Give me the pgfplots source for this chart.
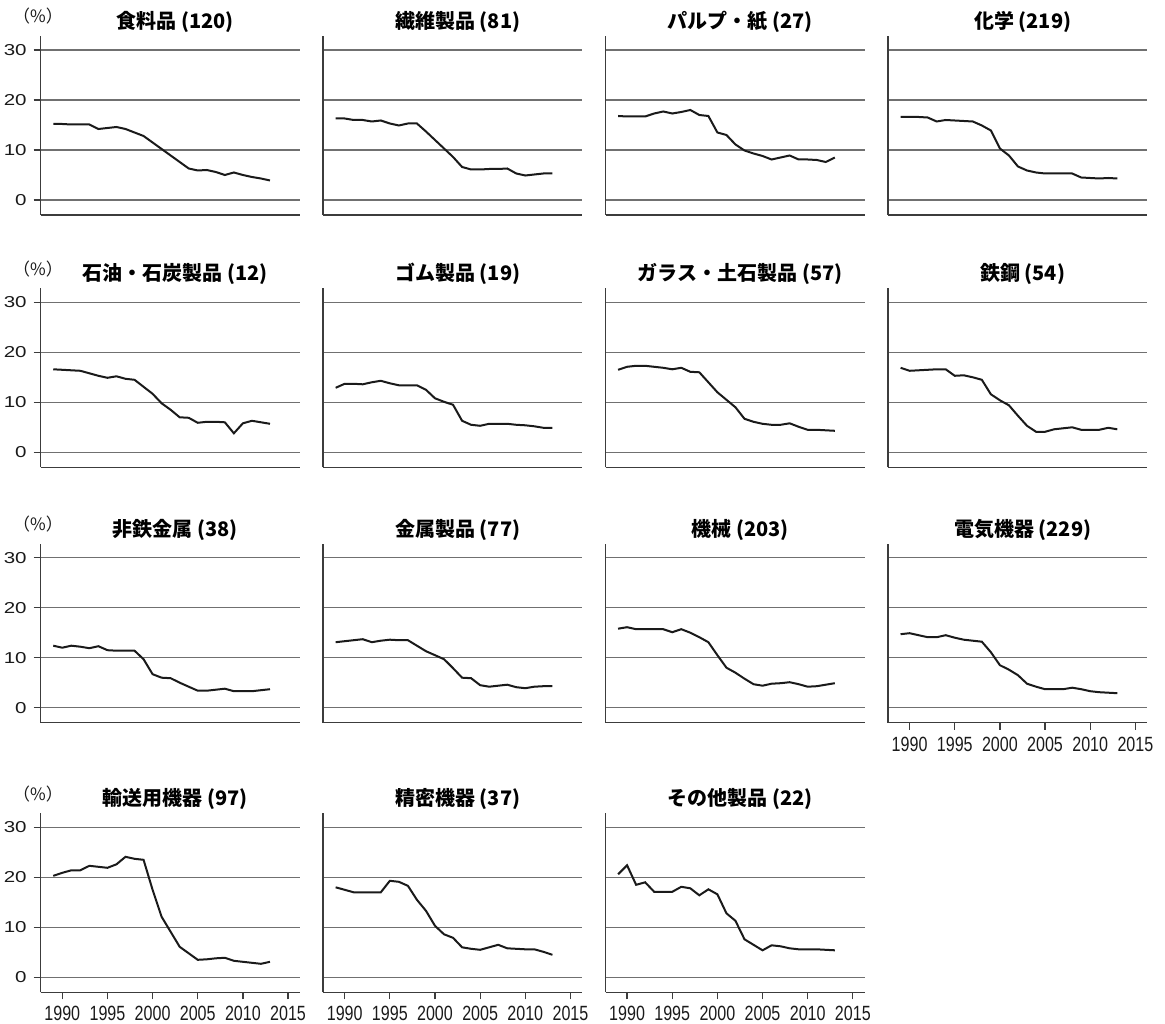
\documentclass[border=0pt]{standalone}
\usepackage{pgfplots}
\pgfplotsset{compat=1.18}
\usepackage{pgfplotstable}
\usepackage{fontspec}
\setmainfont{Liberation Sans}
\newfontfamily\jp{Noto Sans CJK JP}

\definecolor{gridc}{HTML}{707070}
\definecolor{spine}{HTML}{3C3C3C}
\definecolor{ink}{HTML}{1A1A1A}

% tick label shapes: wide digits on y, narrow digits on x
\newcommand\ylab[1]{\scalebox{1.3}[1]{#1}}
\newcommand\xlab[1]{\scalebox{0.78}[1]{#1}}

% share (%) by industry, 1989-2013
\pgfplotstableread{
year food textile pulp chem petro rubber glass steel nonfer metal mach elec trans prec other
1989 15.2 16.3 16.8 16.6 16.6 12.9 16.5 16.9 12.4 13.1 15.8 14.7 20.3 18.0 20.6
1990 15.2 16.3 16.7 16.6 16.5 13.7 17.1 16.3 12.0 13.3 16.1 14.9 20.9 17.5 22.4
1991 15.1 16.0 16.7 16.6 16.4 13.7 17.3 16.4 12.4 13.5 15.7 14.5 21.4 17.0 18.5
1992 15.1 16.0 16.7 16.5 16.3 13.6 17.3 16.5 12.2 13.7 15.7 14.1 21.4 17.0 19.0
1993 15.1 15.7 17.3 15.7 15.8 14.0 17.1 16.6 11.9 13.1 15.7 14.1 22.3 17.0 17.1
1994 14.2 15.9 17.7 16.0 15.3 14.3 16.9 16.6 12.3 13.4 15.7 14.5 22.1 17.0 17.1
1995 14.4 15.3 17.3 15.9 14.9 13.8 16.6 15.3 11.5 13.6 15.1 14.0 21.9 19.3 17.1
1996 14.6 14.9 17.6 15.8 15.2 13.4 16.9 15.4 11.4 13.5 15.7 13.6 22.6 19.1 18.1
1997 14.2 15.3 18.0 15.7 14.7 13.4 16.1 15.0 11.4 13.5 15.0 13.4 24.1 18.3 17.8
1998 13.5 15.3 17.0 14.9 14.5 13.4 16.0 14.5 11.4 12.4 14.1 13.2 23.7 15.5 16.4
1999 12.8 13.7 16.8 13.9 13.1 12.5 14.0 11.6 9.7 11.3 13.1 11.1 23.5 13.3 17.6
2000 11.5 12.0 13.5 10.3 11.7 10.8 12.0 10.4 6.7 10.5 10.5 8.5 17.5 10.3 16.6
2001 10.2 10.3 13.0 8.9 9.8 10.1 10.5 9.4 6.0 9.7 8.0 7.6 12.1 8.6 12.8
2002 8.9 8.6 11.1 6.7 8.5 9.5 9.0 7.3 5.9 7.9 7.0 6.5 9.1 7.9 11.3
2003 7.6 6.6 9.9 5.9 7.0 6.3 6.7 5.3 5.0 6.0 5.8 4.8 6.1 6.0 7.6
2004 6.3 6.1 9.3 5.5 6.9 5.5 6.1 4.1 4.2 5.9 4.7 4.2 4.8 5.7 6.5
2005 5.9 6.1 8.8 5.3 5.9 5.3 5.7 4.1 3.4 4.5 4.4 3.7 3.5 5.5 5.4
2006 6.0 6.2 8.1 5.3 6.1 5.7 5.5 4.6 3.4 4.2 4.8 3.7 3.6 6.0 6.4
2007 5.6 6.2 8.5 5.3 6.1 5.7 5.5 4.8 3.6 4.4 4.9 3.7 3.8 6.5 6.2
2008 5.0 6.3 8.9 5.3 6.0 5.7 5.8 5.0 3.8 4.6 5.1 4.0 3.9 5.8 5.8
2009 5.5 5.3 8.1 4.5 3.8 5.5 5.1 4.5 3.3 4.1 4.7 3.7 3.3 5.7 5.6
2010 5.0 4.9 8.1 4.4 5.8 5.4 4.5 4.5 3.3 3.9 4.2 3.3 3.1 5.6 5.6
2011 4.6 5.1 8.0 4.3 6.3 5.2 4.5 4.5 3.3 4.2 4.3 3.1 2.9 5.6 5.6
2012 4.3 5.3 7.6 4.4 6.0 4.9 4.4 4.9 3.5 4.3 4.6 3.0 2.7 5.1 5.5
2013 3.9 5.3 8.5 4.3 5.7 4.9 4.3 4.6 3.7 4.3 4.9 2.9 3.1 4.5 5.4
}\shares

\pgfplotsset{
  every axis title shift=0pt,
  panel/.style={
    scale only axis, width=129.5pt, height=89.5pt,
    xmin=1987.61, xmax=2016.29, ymin=-3, ymax=32.8,
    axis x line*=bottom, axis y line*=left,
    axis line style={draw=spine, line width=0.65pt},
    ytick={0,10,20,30}, yticklabels={}, xtick=\empty,
    ymajorgrids, major grid style={draw=gridc, line width=0.55pt},
    tick align=outside, major tick length=3.5pt,
    y tick style={draw=none}, x tick style={draw=none},
    anchor=south west, clip=false,
    title style={at={(0.52,1)}, anchor=center, yshift=7pt,
      font=\jp\bfseries\fontsize{10}{10}\selectfont},
    yticklabel style={font=\fontsize{7.9}{8}\selectfont, text=ink},
    xticklabel style={font=\fontsize{10.3}{10}\selectfont, text=ink},
  },
  ylabs/.style={
    yticklabels={\ylab{0},\ylab{10},\ylab{20},\ylab{30}},
    y tick style={draw=spine, line width=0.6pt},
    extra description/.code={
      \node[font=\jp\fontsize{8.5}{8.5}\selectfont, text=ink, xshift=-1.35pt, yshift=9.75pt]
        at (axis description cs:0,1) {（\%）};
    },
  },
  xlabs/.style={
    xtick={1990,1995,2000,2005,2010,2015},
    xticklabels={\xlab{1990},\xlab{1995},\xlab{2000},\xlab{2005},\xlab{2010},\xlab{2015}},
    x tick style={draw=spine, line width=0.6pt},
  },
  series/.style={draw=ink, line width=1pt, mark=none},
}

\begin{document}
\begin{tikzpicture}
\useasboundingbox (0pt,0pt) rectangle (582.5pt,511.5pt);

% row 1
\begin{axis}[panel, ylabs, at={(20.35pt,404pt)}, title={食料品 (120)}]
\addplot[series] table[x=year, y=food] {\shares};
\end{axis}
\begin{axis}[panel, at={(161.55pt,404pt)}, title={繊維製品 (81)}]
\addplot[series] table[x=year, y=textile] {\shares};
\end{axis}
\begin{axis}[panel, at={(302.75pt,404pt)}, title={パルプ・紙 (27)}]
\addplot[series] table[x=year, y=pulp] {\shares};
\end{axis}
\begin{axis}[panel, at={(444pt,404pt)}, title={化学 (219)}]
\addplot[series] table[x=year, y=chem] {\shares};
\end{axis}

% row 2
\begin{axis}[panel, ylabs, at={(20.35pt,277.85pt)}, title={石油・石炭製品 (12)}]
\addplot[series] table[x=year, y=petro] {\shares};
\end{axis}
\begin{axis}[panel, at={(161.55pt,277.85pt)}, title={ゴム製品 (19)}]
\addplot[series] table[x=year, y=rubber] {\shares};
\end{axis}
\begin{axis}[panel, at={(302.75pt,277.85pt)}, title={ガラス・土石製品 (57)}]
\addplot[series] table[x=year, y=glass] {\shares};
\end{axis}
\begin{axis}[panel, at={(444pt,277.85pt)}, title={鉄鋼 (54)}]
\addplot[series] table[x=year, y=steel] {\shares};
\end{axis}

% row 3
\begin{axis}[panel, ylabs, at={(20.35pt,150.15pt)}, title={非鉄金属 (38)}]
\addplot[series] table[x=year, y=nonfer] {\shares};
\end{axis}
\begin{axis}[panel, at={(161.55pt,150.15pt)}, title={金属製品 (77)}]
\addplot[series] table[x=year, y=metal] {\shares};
\end{axis}
\begin{axis}[panel, at={(302.75pt,150.15pt)}, title={機械 (203)}]
\addplot[series] table[x=year, y=mach] {\shares};
\end{axis}
\begin{axis}[panel, xlabs, at={(444pt,150.15pt)}, title={電気機器 (229)}]
\addplot[series] table[x=year, y=elec] {\shares};
\end{axis}

% row 4
\begin{axis}[panel, ylabs, xlabs, at={(20.35pt,15.35pt)}, title={輸送用機器 (97)}]
\addplot[series] table[x=year, y=trans] {\shares};
\end{axis}
\begin{axis}[panel, xlabs, at={(161.55pt,15.35pt)}, title={精密機器 (37)}]
\addplot[series] table[x=year, y=prec] {\shares};
\end{axis}
\begin{axis}[panel, xlabs, at={(302.75pt,15.35pt)}, title={その他製品 (22)}]
\addplot[series] table[x=year, y=other] {\shares};
\end{axis}
\end{tikzpicture}
\end{document}
